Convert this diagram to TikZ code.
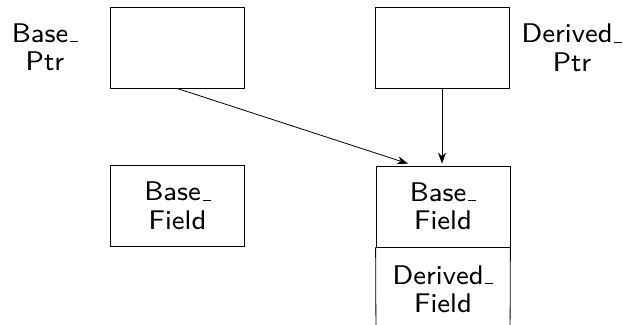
\documentclass[tikz,border=0pt]{standalone}
\usepackage{fontspec}
\setsansfont{lmsans8-regular}[Extension=.otf]
\usepackage{tikz}
\usetikzlibrary{arrows.meta,positioning}
\newcommand{\us}{\leavevmode\kern.06em\vbox{\hrule width.3em height.04em}}

\begin{document}
\begin{tikzpicture}[
  x=1pt, y=-1pt,
  font=\sffamily\fontsize{27}{28.5}\selectfont,
  box/.style={draw, line width=0.8pt, minimum width=134pt, minimum height=81pt, inner sep=0pt, align=center},
  lbl/.style={align=center, inner sep=0pt},
  ptr/.style={-{Stealth[length=11pt, width=8pt]}, line width=0.8pt},
]
\useasboundingbox (0,0) rectangle (623,324);

% ===== pointers =====
\node[box] (bp) at (177, 47.5) {};
\node[box] (dp) at (442, 47.5) {};
\node[lbl] (bpl) at (45, 47.5) {Base\us\\Ptr};
\node[lbl] (dpl) at (572, 48) {Derived\us\\Ptr};

% ===== objects =====
\node[box] (bf1) at (177.5, 206) {Base\us\\Field};
\node[box] (bf2) at (443, 206.5) {Base\us\\Field};
\node[lbl, below=18pt of bf2] (df2) {Derived\us\\Field};
\coordinate (dl) at (376, 340);
\coordinate (dr) at (510, 340);
\draw[line width=0.8pt] (bf2.south west) -- (dl);
\draw[line width=0.8pt] (bf2.south east) -- (dr);

% arrows
\draw[ptr] (bp.south) -- ([xshift=-35pt, yshift=2pt]bf2.north);
\draw[ptr] (dp.south) -- ([xshift=-1pt, yshift=2pt]bf2.north);

\end{tikzpicture}
\end{document}
